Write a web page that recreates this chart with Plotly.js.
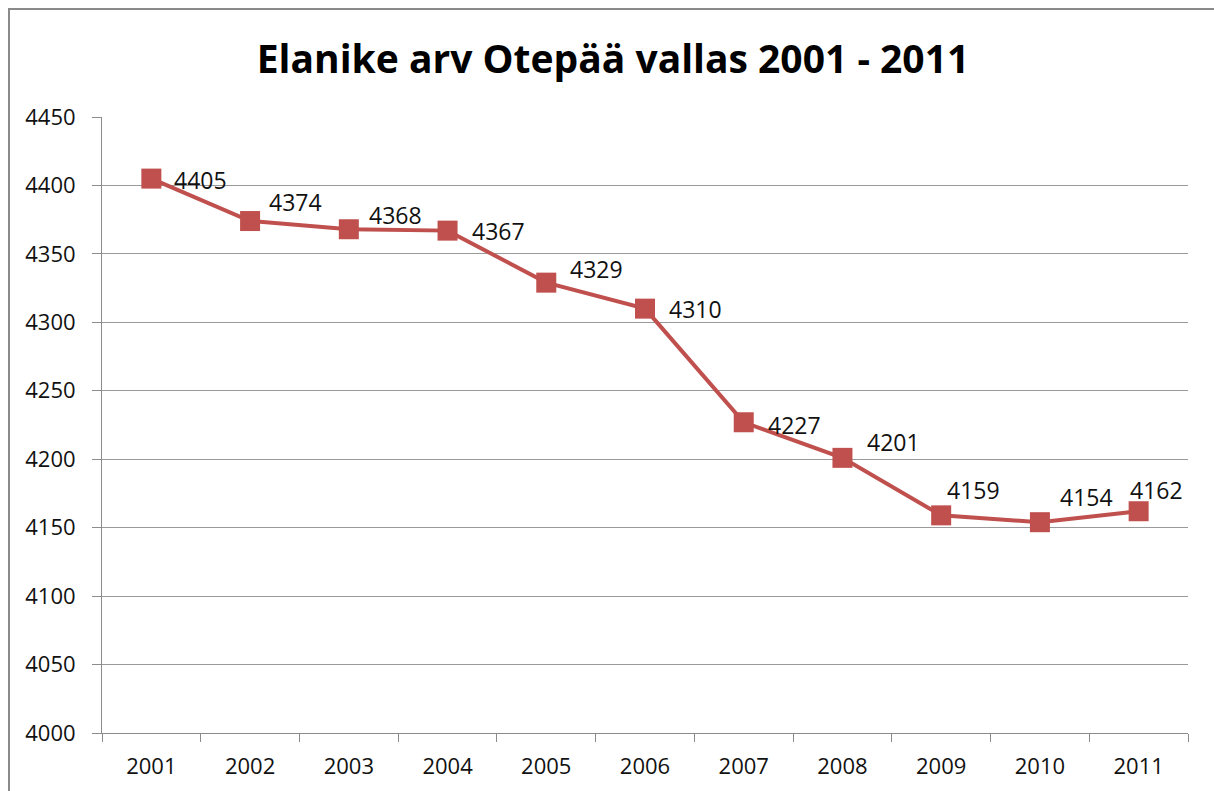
<!DOCTYPE html>
<html>
<head>
<meta charset="utf-8">
<script src="https://cdn.plot.ly/plotly-3.0.1.min.js"></script>
<style>
  html, body { margin: 0; padding: 0; background: #fff; }
  #chart { width: 1214px; height: 791px; }
</style>
</head>
<body>
<div id="chart"></div>
<script>
// ---- data ----
const years = ['2001', '2002', '2003', '2004', '2005', '2006', '2007', '2008', '2009', '2010', '2011'];
const population = [4405, 4374, 4368, 4367, 4329, 4310, 4227, 4201, 4159, 4154, 4162];
const chartTitle = 'Elanike arv Otepää vallas 2001 - 2011';
const yTicks = [4000, 4050, 4100, 4150, 4200, 4250, 4300, 4350, 4400, 4450];

// ---- label placement (pixel offsets from each point) ----
const labelDx = [21, 17, 18, 22, 22, 22, 22, 23, 4, 18, -11];
const labelDy = [-1, 19, 14, 0, 14, 0, -3, 16, 25, 25, 21];

const red = '#C0504D';
const grey = '#8C8C8C';
const font = 'Open Sans, Liberation Sans, sans-serif';

const trace = {
  x: years,
  y: population,
  type: 'scatter',
  mode: 'lines+markers',
  line: { color: red, width: 4 },
  marker: { symbol: 'square', size: 20, color: red, line: { width: 0 } },
  hoverinfo: 'x+y',
  cliponaxis: false
};

const annotations = years.map((yr, i) => ({
  x: i,
  y: population[i],
  xref: 'x',
  yref: 'y',
  text: String(population[i]),
  showarrow: false,
  xanchor: 'left',
  yanchor: 'middle',
  xshift: labelDx[i],
  yshift: labelDy[i],
  font: { family: font, size: 23, color: '#111' }
}));

// plot area: x 102..1188, y 117..733
const plotW = 1086, plotH = 616;
const shapes = [{
  type: 'rect',
  xref: 'paper', yref: 'paper',
  x0: (9 - 102) / plotW,
  x1: (1230 - 102) / plotW,
  y0: (733 - 800) / plotH,
  y1: (733 - 9) / plotH,
  line: { color: '#8A8A8A', width: 2 },
  fillcolor: 'rgba(0,0,0,0)',
  layer: 'above'
}];

const layout = {
  width: 1214,
  height: 791,
  margin: { l: 102, r: 26, t: 117, b: 58 },
  paper_bgcolor: '#fff',
  plot_bgcolor: '#fff',
  showlegend: false,
  title: {
    text: '<b>' + chartTitle + '</b>',
    font: { family: font, size: 39, color: '#000' },
    x: 613 / 1214,
    xref: 'container',
    xanchor: 'center',
    y: 1 - 59 / 791,
    yanchor: 'middle'
  },
  xaxis: {
    type: 'category',
    tickmode: 'array',
    tickvals: years,
    ticktext: years,
    tickson: 'boundaries',
    ticks: 'outside',
    ticklen: 8,
    tickcolor: grey,
    tickwidth: 1,
    showline: true,
    linecolor: grey,
    linewidth: 1,
    showgrid: false,
    zeroline: false,
    ticklabelstandoff: 14,
    tickfont: { family: font, size: 22, color: '#111' },
    range: [-0.5, years.length - 0.5],
    fixedrange: true
  },
  yaxis: {
    range: [4000, 4450],
    tickmode: 'array',
    tickvals: yTicks,
    ticktext: yTicks.map(String),
    ticks: 'outside',
    ticklen: 9,
    tickcolor: grey,
    tickwidth: 1,
    showline: true,
    linecolor: grey,
    linewidth: 1,
    showgrid: true,
    gridcolor: '#9A9A9A',
    gridwidth: 1,
    zeroline: false,
    ticklabelstandoff: 12,
    tickfont: { family: font, size: 22, color: '#111' },
    fixedrange: true
  },
  annotations: annotations,
  shapes: shapes
};

Plotly.newPlot('chart', [trace], layout, { displayModeBar: false });
</script>
</body>
</html>
